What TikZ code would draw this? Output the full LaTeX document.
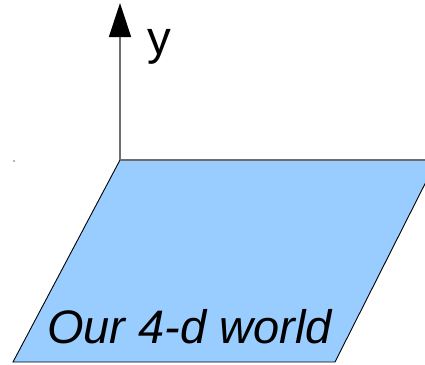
\documentclass[tikz,border=0pt]{standalone}
\usepackage{fontspec}
\setmainfont{Liberation Sans}
\usetikzlibrary{arrows.meta}
\definecolor{planeblue}{RGB}{153,204,255}
\definecolor{axisgray}{RGB}{110,110,110}
\tikzset{
  axisline/.style={axisgray, line width=1.5pt},
  edgeline/.style={black, line width=0.9pt},
  bigtext/.style={inner sep=0pt, font=\fontsize{47.5}{52}\selectfont}
}
\begin{document}
\begin{tikzpicture}[x=1pt,y=-1pt]
\useasboundingbox (0,0) rectangle (425,364);
\coordinate (O) at (120,160);
\coordinate (TR) at (437,160);
\coordinate (BR) at (335,362);
\coordinate (BL) at (13,362);
\coordinate (Ytip) at (120,3);
\begin{scope}
\clip (0,0) rectangle (425,364);
\fill[planeblue] (O) -- (TR) -- (BR) -- (BL) -- cycle;
\draw[edgeline, line join=miter] (TR) -- (BR) -- (BL) -- (O);
\draw[axisline] (O) -- (TR);
\end{scope}
\draw[axisline, -{Triangle[length=34pt,width=22pt,black]}] (O) -- (Ytip);
\node[bigtext, anchor=base west] (ylabel) at (147,54) {y};
\node[bigtext, anchor=base west, font=\fontsize{47}{52}\selectfont\itshape] (worldlabel) at (47,343) {Our 4-d world};
\fill[axisgray] (14,161) circle (0.8pt);
\end{tikzpicture}
\end{document}
